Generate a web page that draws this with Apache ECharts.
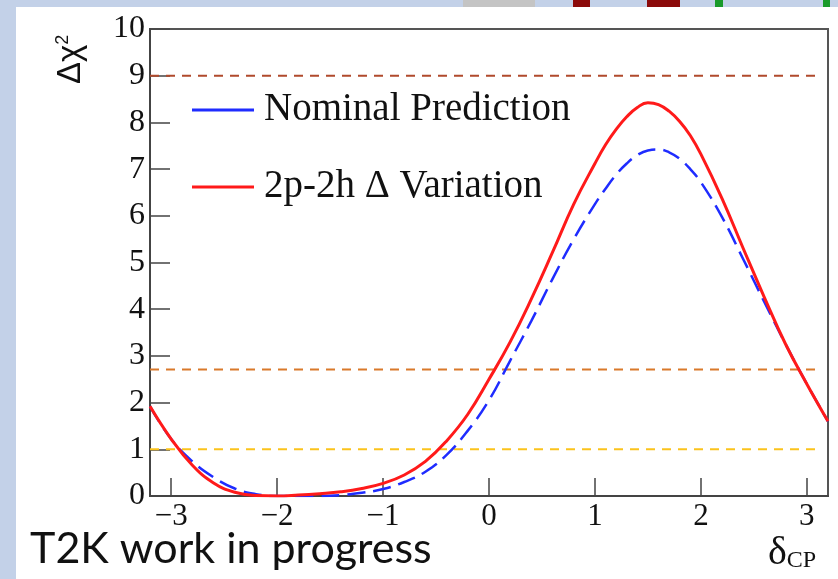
<!DOCTYPE html>
<html>
<head>
<meta charset="utf-8">
<script src="https://cdn.jsdelivr.net/npm/echarts@6/dist/echarts.min.js"></script>
<style>
html,body{margin:0;padding:0;background:#fff;}
#c{width:838px;height:579px;}
</style>
</head>
<body>
<div id="c"></div>
<script>
// delta_CP values
var deltaCP = [-3.2,-3.0,-2.8,-2.6,-2.4,-2.2,-2.0,-1.8,-1.6,-1.4,-1.2,-1.0,-0.8,-0.6,-0.4,-0.2,0.0,0.2,0.4,0.6,0.8,1.0,1.1,1.2,1.3,1.4,1.5,1.6,1.7,1.8,1.9,2.0,2.2,2.4,2.6,2.8,3.0,3.2];
// Nominal Prediction (blue dashed)
var nominal = [1.92,1.22,0.74,0.40,0.16,0.04,0.0,0.0,0.0,0.02,0.07,0.15,0.30,0.52,0.88,1.40,2.05,2.90,3.75,4.65,5.50,6.25,6.58,6.88,7.12,7.30,7.40,7.42,7.36,7.22,7.00,6.72,5.97,5.07,4.15,3.25,2.40,1.60];
// 2p-2h Delta Variation (red solid)
var variation = [1.92,1.22,0.66,0.28,0.08,0.01,0.0,0.02,0.05,0.09,0.16,0.27,0.45,0.74,1.18,1.75,2.50,3.30,4.22,5.22,6.25,7.12,7.52,7.85,8.12,8.32,8.42,8.38,8.24,8.02,7.72,7.32,6.37,5.30,4.25,3.25,2.40,1.60];
// reference levels
var levels = [9, 2.71, 1];
var levelColors = ['#b04a2c', '#d9792b', '#fbc31c'];
var xTicks = [-3,-2,-1,0,1,2,3];
var seriesNames = ['Nominal Prediction', '2p-2h \u0394 Variation'];

function zip(xs, ys){ return xs.map(function(x,i){ return [x, ys[i]]; }); }

var chart = echarts.init(document.getElementById('c'));
var series = [];
levels.forEach(function(v, i){
  series.push({
    type:'line', silent:true, symbol:'none', z:1,
    data:[[-3.2, v],[3.12, v]],
    lineStyle:{color:levelColors[i], width:2, type:[9,7]}
  });
});
series.push({
  name: seriesNames[0], type:'line', symbol:'none', smooth:0.45, z:3,
  data: zip(deltaCP, nominal),
  itemStyle:{color:'#1f2cff'},
  lineStyle:{color:'#1f2cff', width:2.5, type:[18,8]}
});
series.push({
  name: seriesNames[1], type:'line', symbol:'none', smooth:0.45, z:4,
  data: zip(deltaCP, variation),
  itemStyle:{color:'#ff1a1a'},
  lineStyle:{color:'#ff1a1a', width:3}
});

var serif = 'Liberation Serif';
chart.setOption({
  animation:false,
  backgroundColor:'#ffffff',
  grid:{left:150, right:10, top:29, bottom:83, show:true, borderColor:'#555', borderWidth:2, backgroundColor:'transparent'},
  xAxis:{
    type:'value', min:-3.2, max:3.2,
    axisLine:{show:true, onZero:false, lineStyle:{color:'#444', width:2}},
    axisTick:{show:true, inside:true, length:18, customValues:xTicks, lineStyle:{color:'#444', width:1.5}},
    axisLabel:{customValues:xTicks, fontFamily:serif, fontSize:31, color:'#111', margin:5,
      formatter:function(v){ return String(v).replace('-', '\u2212'); }},
    splitLine:{show:false}
  },
  yAxis:{
    type:'value', min:0, max:10, interval:1,
    axisLine:{show:true, onZero:false, lineStyle:{color:'#444', width:2}},
    axisTick:{show:true, inside:true, length:20, lineStyle:{color:'#444', width:1.5}},
    axisLabel:{fontFamily:serif, fontSize:32, color:'#111', margin:5},
    splitLine:{show:false}
  },
  legend:{
    orient:'vertical', left:187, top:84, itemGap:35,
    data:[seriesNames[0], seriesNames[1]],
    icon:'rect', itemWidth:62, itemHeight:3,
    textStyle:{fontFamily:serif, fontSize:39, color:'#111', padding:[0,0,0,5], lineHeight:42}
  },
  graphic:[
    {type:'rect', shape:{x:0,y:0,width:16,height:579}, style:{fill:'#c3d1e8'}, silent:true},
    {type:'rect', shape:{x:0,y:0,width:838,height:7}, style:{fill:'#c3d1e8'}, silent:true},
    {type:'rect', shape:{x:463,y:0,width:72,height:7}, style:{fill:'#c4c4c4'}, silent:true},
    {type:'rect', shape:{x:573,y:0,width:17,height:7}, style:{fill:'#8b0a0a'}, silent:true},
    {type:'rect', shape:{x:647,y:0,width:33,height:7}, style:{fill:'#8b0a0a'}, silent:true},
    {type:'rect', shape:{x:715,y:0,width:8,height:7}, style:{fill:'#1a9a2a'}, silent:true},
    {type:'rect', shape:{x:823,y:0,width:7,height:7}, style:{fill:'#1a9a2a'}, silent:true},
    {type:'text', x:54, y:84, rotation:Math.PI/2, silent:true,
      style:{text:'{a|\u0394\u03c7}{s|2}', textVerticalAlign:'top', textAlign:'left',
        rich:{a:{fontFamily:'Liberation Sans', fontSize:33, fill:'#111'},
              s:{fontFamily:'Liberation Sans', fontSize:18, fill:'#111', verticalAlign:'top'}}}},
    {type:'text', x:768, y:533, silent:true,
      style:{text:'{a|\u03b4}{s|CP}', textVerticalAlign:'top', textAlign:'left',
        rich:{a:{fontFamily:serif, fontSize:40, fill:'#111'},
              s:{fontFamily:serif, fontSize:24, fill:'#111', verticalAlign:'bottom'}}}},
    {type:'text', x:30, y:528, silent:true,
      style:{text:'T2K work in progress', fontFamily:'Lato', fontSize:43, fill:'#111', textVerticalAlign:'top'}}
  ],
  series: series
});
</script>
</body>
</html>
